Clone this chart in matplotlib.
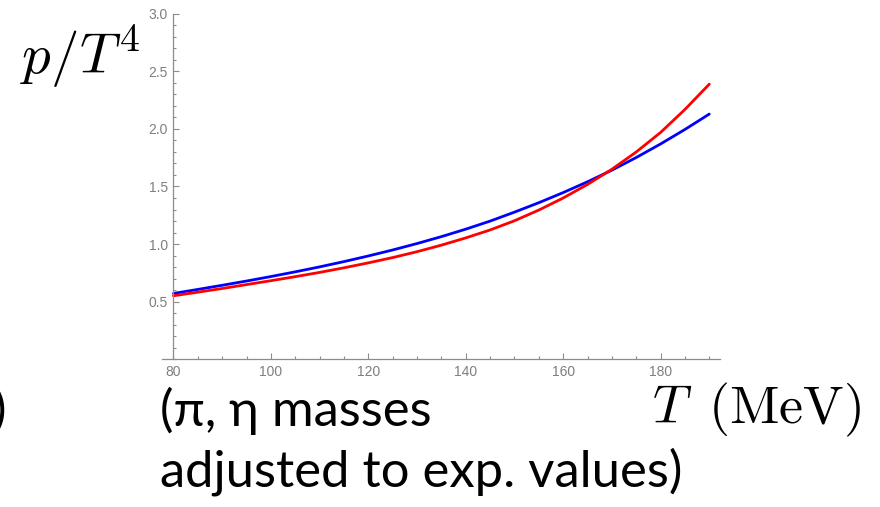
import matplotlib
matplotlib.use("Agg")
import matplotlib.pyplot as plt
from matplotlib.ticker import MultipleLocator

plt.rcParams['mathtext.fontset'] = 'cm'

# temperature grid (MeV) and p/T^4
T = [80, 85, 90, 95, 100, 105, 110, 115, 120, 125, 130, 135,
     140, 145, 150, 155, 160, 165, 170, 175, 180, 185, 190]
p_blue = [0.57, 0.605, 0.641, 0.678, 0.717, 0.758, 0.801, 0.847, 0.896, 0.948, 1.004, 1.064,
          1.129, 1.199, 1.277, 1.359, 1.447, 1.541, 1.642, 1.752, 1.870, 1.996, 2.13]
p_red = [0.55, 0.581, 0.613, 0.647, 0.681, 0.716, 0.753, 0.793, 0.836, 0.882, 0.933, 0.99,
         1.053, 1.122, 1.202, 1.295, 1.40, 1.518, 1.65, 1.80, 1.97, 2.17, 2.39]

xticks = [80, 100, 120, 140, 160, 180]
yticks = [0.5, 1.0, 1.5, 2.0, 2.5, 3.0]

fig = plt.figure(figsize=(8.8, 5.07), dpi=100)
ax = fig.add_axes([0.1838, 0.2919, 0.6344, 0.6805])

ax.plot(T, p_blue, color='#0000ff', lw=2.0, solid_capstyle='round')
ax.plot(T, p_red, color='#ff0000', lw=2.0, solid_capstyle='round')

ax.set_xlim(77.6, 192.2)
ax.set_ylim(0, 3.0)

axcol = '#8c8c8c'
for s in ['top', 'right']:
    ax.spines[s].set_visible(False)
ax.spines['left'].set_position(('data', 80))
ax.spines['left'].set_color(axcol)
ax.spines['bottom'].set_color(axcol)
ax.spines['left'].set_linewidth(0.9)
ax.spines['bottom'].set_linewidth(0.9)

ax.set_xticks(xticks)
ax.set_yticks(yticks)
ax.set_yticklabels(['%.1f' % v for v in yticks])
ax.xaxis.set_minor_locator(MultipleLocator(5))
ax.yaxis.set_minor_locator(MultipleLocator(0.1))
ax.tick_params(which='major', direction='in', length=4, width=0.8, color=axcol,
               labelsize=10, labelcolor='#7f7f7f', pad=4)
ax.tick_params(which='minor', direction='in', length=2.2, width=0.8, color=axcol)
for lab in ax.get_xticklabels() + ax.get_yticklabels():
    lab.set_family('Liberation Sans')

# labels and slide text
fig.text(20 / 880, 1 - 74 / 507, r'$p/T^4$', fontsize=41, ha='left', va='baseline')
fig.text(652 / 880, 1 - 423 / 507, r'$T$', fontsize=39, ha='left', va='baseline')
fig.text(708 / 880, 1 - 423 / 507, r'$(\mathrm{MeV})$', fontsize=39, ha='left', va='baseline')
fig.text(160 / 880, 1 - 426 / 507, '(\u03c0, \u03b7 masses', fontsize=36.5, family='Lato',
         ha='left', va='baseline')
fig.text(160 / 880, 1 - 487 / 507, 'adjusted to exp. values)', fontsize=36.5, family='Lato',
         ha='left', va='baseline')
fig.text(6 / 880, 1 - 426 / 507, ')', fontsize=36.5, family='Lato', ha='right', va='baseline')

fig.savefig('out.png', dpi=100)
